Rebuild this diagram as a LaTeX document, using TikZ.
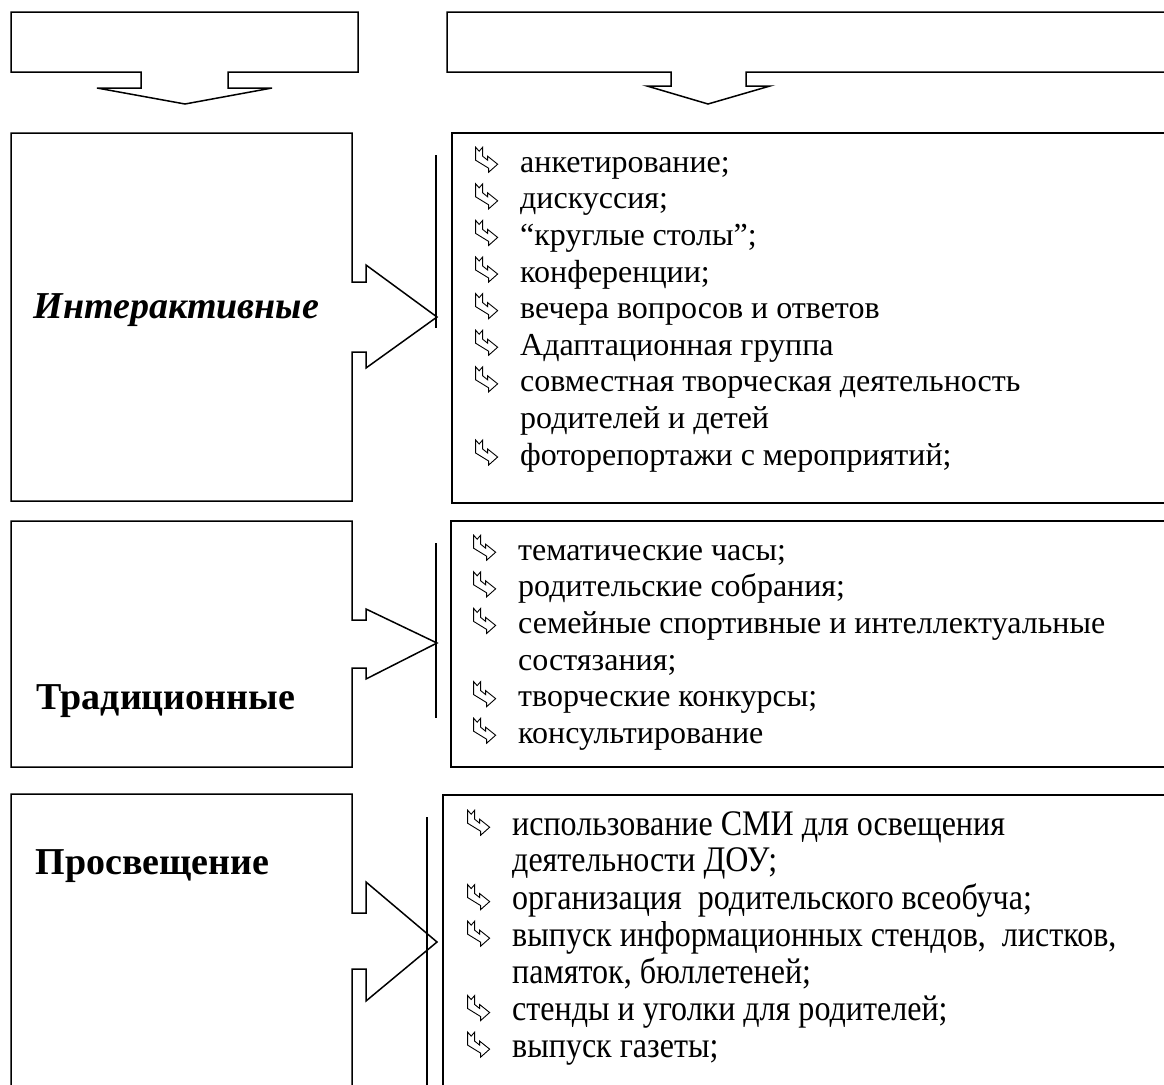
\documentclass[tikz,border=0pt]{standalone}
\usepackage{fontspec}
\setmainfont{Liberation Serif}
\newfontfamily\narrowfont[FakeStretch=0.89]{Liberation Serif}
\usetikzlibrary{positioning}

% hollow ribbon arrow used as bullet
\newcommand{\rib}{\tikz[baseline=0pt,x=1pt,y=1pt,line width=.9pt,line join=miter]
  \draw[fill=white] (0,25) -- (3.5,21) -- (7,25) -- (7,16) -- (12,12) -- (12,16)
    -- (22,8) -- (13,0) -- (13,4) -- (0,12) -- cycle;}
\newcommand{\itm}{\strut\makebox[45pt][l]{\rib}}
\newcommand{\cnt}{\strut\hspace*{45pt}}

\begin{document}
\begin{tikzpicture}[
    x = 1pt, y = -1pt, % picture units as in the scan
    line width = 1.5pt,
    line join = miter
    ]

    \tikzset{
    list/.style = {anchor = north west, align = left, inner sep = 0pt,
      font = \fontsize{32}{36.6}\selectfont},
    head/.style = {anchor = base west, inner sep = 0pt,
      font = \fontsize{38}{44}\selectfont\bfseries}
    }
    \useasboundingbox (0,0) rectangle (1164,1084);

    % top blocks
    \draw (11,12) -- (358,12) -- (358,72) -- (228,72) -- (228,88) -- (272,88)
      -- (185,104) -- (97,88) -- (141,88) -- (141,72) -- (11,72) -- cycle;
    \draw (1166,12) -- (447,12) -- (447,72) -- (671,72) -- (671,86) -- (647,86)
      -- (708,104) -- (770,86) -- (746,86) -- (746,72) -- (1166,72);

    % interactive
    \draw (11,133) -- (352,133) -- (352,282) -- (366,282) -- (366,265)
      -- (437,317) -- (366,368) -- (366,352) -- (352,352) -- (352,501)
      -- (11,501) -- cycle;
    \draw (436,155) -- (436,328);
    \draw (1166,133) -- (452,133) -- (452,503) -- (1166,503);
    \node[head, font = \fontsize{38}{44}\selectfont\bfseries\itshape] (int) at (33,318) {Интерактивные};
    \node[list] (intl) at (475,146.4) {
      \itm анкетирование;\\
      \itm дискуссия;\\
      \itm “круглые столы”;\\
      \itm конференции;\\
      \itm вечера вопросов и ответов\\
      \itm Адаптационная группа\\
      \itm совместная творческая деятельность\\
      \cnt родителей и детей\\
      \itm фоторепортажи с мероприятий;};

    % traditional
    \draw (11,521) -- (352,521) -- (352,620) -- (366,620) -- (366,609)
      -- (437,643) -- (366,679) -- (366,668) -- (352,668) -- (352,767)
      -- (11,767) -- cycle;
    \draw (436,543) -- (436,718);
    \draw (1166,521) -- (451,521) -- (451,767) -- (1166,767);
    \node[head] (trad) at (36,709) {Традиционные};
    \node[list] (tradl) at (473,534.4) {
      \itm тематические часы;\\
      \itm родительские собрания;\\
      \itm семейные спортивные и интеллектуальные\\
      \cnt состязания;\\
      \itm творческие конкурсы;\\
      \itm консультирование};

    % education
    \draw (11,1090) -- (11,794) -- (352,794) -- (352,913) -- (366,913)
      -- (366,882) -- (437,942) -- (366,1001) -- (366,969) -- (352,969)
      -- (352,1090);
    \draw (427,817) -- (427,1090);
    \draw (1166,795) -- (443,795) -- (443,1090);
    \node[head] (pros) at (35,874) {Просвещение};
    \node[list, font = \narrowfont\fontsize{36}{36.6}\selectfont] (prosl) at (467,809.4) {
      \itm использование СМИ для освещения\\
      \cnt деятельности ДОУ;\\
      \itm организация \ родительского всеобуча;\\
      \itm выпуск информационных стендов, \ листков,\\
      \cnt памяток, бюллетеней;\\
      \itm стенды и уголки для родителей;\\
      \itm выпуск газеты;};
\end{tikzpicture}
\end{document}
